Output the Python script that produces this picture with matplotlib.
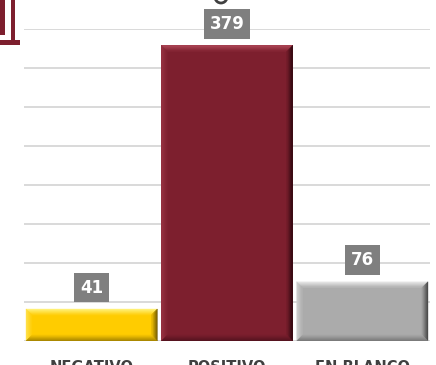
import matplotlib.pyplot as plt
from matplotlib.patches import Polygon, Rectangle, Arc
from matplotlib.colors import to_rgb
import numpy as np

categories = ['NEGATIVO', 'POSITIVO', 'EN BLANCO']
values = [41, 379, 76]
face_colors = ['#FFCC00', '#7D1F2E', '#ABABAB']
# bevel edge colours: top, left, right, bottom
bevel_colors = [
    ['#FFF27A', '#FFE14A', '#6E5700', '#A88600'],
    ['#B24A5A', '#9A3545', '#2C070E', '#55131F'],
    ['#EDEDED', '#D2D2D2', '#4A4A4A', '#7A7A7A'],
]

W, H = 436, 365
fig = plt.figure(figsize=(W / 100, H / 100), dpi=100)
fig.patch.set_facecolor('white')

# axes placed in pixel terms
left, right, bottom, top = 24, 430, 341, 29
ax = fig.add_axes([left / W, (H - bottom) / H, (right - left) / W, (bottom - top) / H])

x = np.arange(len(categories))
bars = ax.bar(x, values, width=0.97, color=face_colors, edgecolor='none', zorder=2)

ax.set_xlim(-0.5, len(categories) - 0.5)
ax.set_ylim(0, 400)
ax.set_yticks(np.arange(0, 401, 50))
ax.yaxis.grid(True, color='#D9D9D9', linewidth=1.4, zorder=0)
ax.set_axisbelow(True)
ax.tick_params(axis='y', left=False, labelleft=False)
ax.tick_params(axis='x', bottom=False, pad=10)
ax.set_xticks(x)
ax.set_xticklabels(categories, fontsize=10.5, fontweight='bold', color='#404040')
for s in ax.spines.values():
    s.set_visible(False)


def mix(c1, c2, t):
    a, b = np.array(to_rgb(c1)), np.array(to_rgb(c2))
    return tuple(a + (b - a) * t)


# soft bevel drawn as 1px strips from the bar edge inwards
n_steps = 6
inv = ax.transData.inverted()
for bar, face, (ct, cl, cr, cb) in zip(bars, face_colors, bevel_colors):
    x0, x1 = bar.get_x(), bar.get_x() + bar.get_width()
    y0, y1 = 0, bar.get_height()
    (px0, py0), (px1, py1) = ax.transData.transform([(x0, y0), (x1, y1)])
    for k in range(n_steps):
        t = k / n_steps
        (ax0, ay0), (ax1, ay1) = inv.transform([(px0 + k, py0 + k), (px1 - k, py1 - k)])
        (bx0, by0), (bx1, by1) = inv.transform([(px0 + k + 1, py0 + k + 1), (px1 - k - 1, py1 - k - 1)])
        strips = [
            ([(ax0, ay1), (ax1, ay1), (bx1, by1), (bx0, by1)], ct),
            ([(ax0, ay0), (ax0, ay1), (bx0, by1), (bx0, by0)], cl),
            ([(ax1, ay0), (ax1, ay1), (bx1, by1), (bx1, by0)], cr),
            ([(ax0, ay0), (ax1, ay0), (bx1, by0), (bx0, by0)], cb),
        ]
        for pts, c in strips:
            ax.add_patch(Polygon(pts, closed=True, color=mix(c, face, t), lw=0.3, zorder=3))

for xi, v in zip(x, values):
    ax.annotate(str(v), (xi, v), xytext=(0, 9), textcoords='offset points',
                ha='center', va='bottom', fontsize=12, fontweight='bold', color='white',
                bbox=dict(boxstyle='square,pad=0.35', fc='#7F7F7F', ec='none'),
                annotation_clip=False, zorder=5)


# cropped decoration in the top-left corner
def px_rect(x0, y0, w, h, **kw):
    fig.add_artist(Rectangle((x0 / W, 1 - (y0 + h) / H), w / W, h / H,
                             transform=fig.transFigure, **kw))


maroon = '#7D1F2E'
px_rect(0, 0, 5, 35, color=maroon, lw=0)
px_rect(11, 0, 4, 42, color=maroon, lw=0)
px_rect(0, 40, 20, 5, color=maroon, lw=0)
fig.add_artist(Arc((221 / W, 1 - (-3) / H), 12 / W, 12 / H, theta1=200, theta2=340,
                   transform=fig.transFigure, color='#404040', lw=2))

fig.savefig('out.png', dpi=100)
